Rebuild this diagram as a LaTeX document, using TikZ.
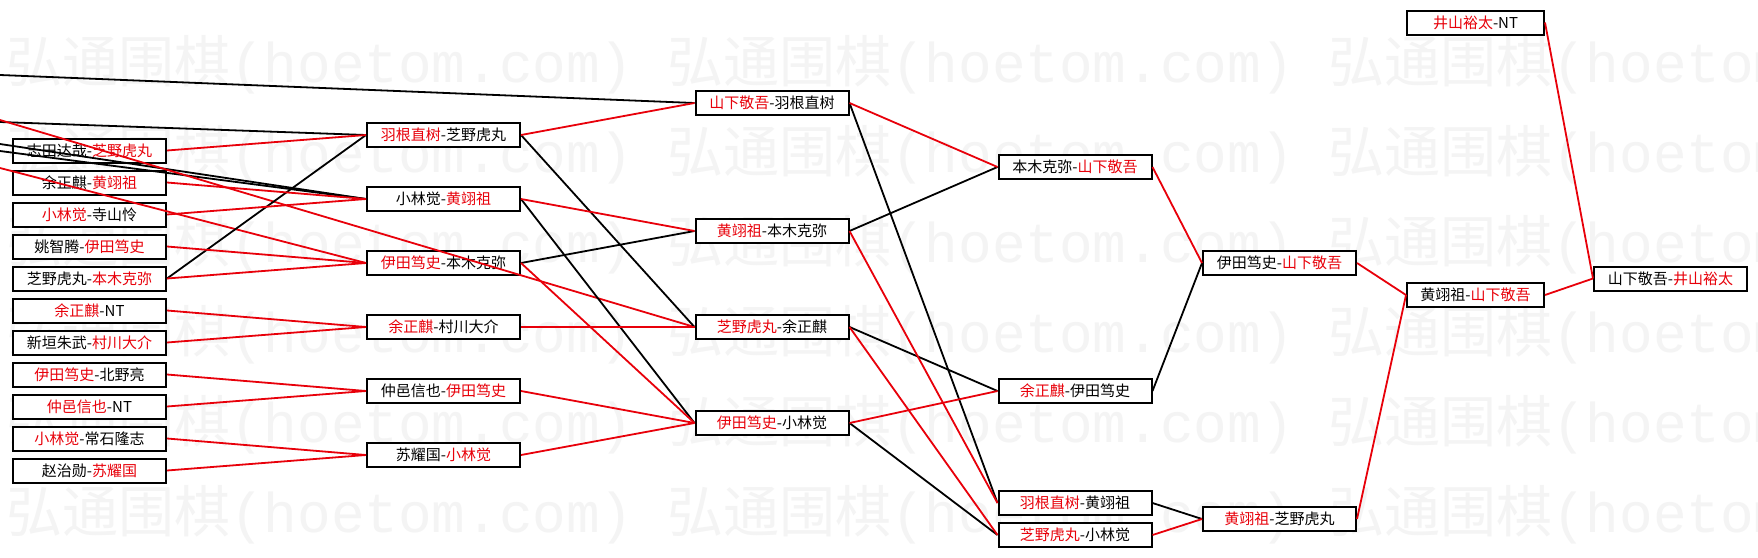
\documentclass[tikz,border=0pt]{standalone}
\usepackage{fontspec}
\usepackage{xcolor}
\usepackage{tikz}
\usetikzlibrary{positioning}
\newfontfamily\cjk{Noto Sans CJK SC}
\newfontfamily\mono{Liberation Mono}
\definecolor{rojo}{RGB}{232,0,10}
\definecolor{marca}{RGB}{244,244,244}
\newcommand{\gana}[1]{{\color{rojo}#1}}

\begin{document}
\begin{tikzpicture}[x=1pt,y=-1pt,
caja/.style={draw=black,line width=2pt,fill=white,minimum width=153pt,minimum height=24pt,inner sep=0pt,font=\cjk\fontsize{15}{18}\selectfont},
pierde/.style={draw=black,line width=1.8pt},
avanza/.style={draw=rojo,line width=1.8pt},
marcatexto/.style={text=marca,anchor=west,inner sep=0pt,font=\cjk\fontsize{56}{60}\selectfont}]
\useasboundingbox[fill=white] (0,0) rectangle (1758,557);
\foreach \r in {0,...,5}
  \foreach \k in {0,1,2}
    \node[marcatexto] (m\r\k) at (6+661*\k,65+90*\r) {弘通围棋{\mono(hoetom.com)}};

\node[caja] (a1) at (89.5,150.5) {志田达哉-\gana{芝野虎丸}};
\node[caja,below=6pt of a1] (a2) {余正麒-\gana{黄翊祖}};
\node[caja,below=6pt of a2] (a3) {\gana{小林觉}-寺山怜};
\node[caja,below=6pt of a3] (a4) {姚智腾-\gana{伊田笃史}};
\node[caja,below=6pt of a4] (a5) {芝野虎丸-\gana{本木克弥}};
\node[caja,below=6pt of a5] (a6) {\gana{余正麒}-NT};
\node[caja,below=6pt of a6] (a7) {新垣朱武-\gana{村川大介}};
\node[caja,below=6pt of a7] (a8) {\gana{伊田笃史}-北野亮};
\node[caja,below=6pt of a8] (a9) {\gana{仲邑信也}-NT};
\node[caja,below=6pt of a9] (a10) {\gana{小林觉}-常石隆志};
\node[caja,below=6pt of a10] (a11) {赵治勋-\gana{苏耀国}};

\node[caja] (b1) at (443.5,135) {\gana{羽根直树}-芝野虎丸};
\node[caja,below=38pt of b1] (b2) {小林觉-\gana{黄翊祖}};
\node[caja,below=38pt of b2] (b3) {\gana{伊田笃史}-本木克弥};
\node[caja,below=38pt of b3] (b4) {\gana{余正麒}-村川大介};
\node[caja,below=38pt of b4] (b5) {仲邑信也-\gana{伊田笃史}};
\node[caja,below=38pt of b5] (b6) {苏耀国-\gana{小林觉}};

\node[caja] (c1) at (772,103) {\gana{山下敬吾}-羽根直树};
\node[caja,below=102pt of c1] (c2) {\gana{黄翊祖}-本木克弥};
\node[caja,below=70pt of c2] (c3) {\gana{芝野虎丸}-余正麒};
\node[caja,below=70pt of c3] (c4) {\gana{伊田笃史}-小林觉};

\node[caja] (d1) at (1075,167) {本木克弥-\gana{山下敬吾}};
\node[caja,below=198pt of d1] (d2) {\gana{余正麒}-伊田笃史};
\node[caja,below=86pt of d2] (d3) {\gana{羽根直树}-黄翊祖};
\node[caja,below=6pt of d3] (d4) {\gana{芝野虎丸}-小林觉};

\node[caja] (e1) at (1279.5,263) {伊田笃史-\gana{山下敬吾}};
\node[caja,below=230pt of e1] (e2) {\gana{黄翊祖}-芝野虎丸};

\node[caja,minimum width=137pt] (f1) at (1475.5,22.5) {\gana{井山裕太}-NT};
\node[caja,minimum width=137pt,below=246.5pt of f1] (f2) {黄翊祖-\gana{山下敬吾}};

\node[caja] (g1) at (1670.5,278.5) {山下敬吾-\gana{井山裕太}};

\coordinate (o1) at (0,75);
\coordinate (o2) at (0,122);
\coordinate (o3) at (0,144);
\coordinate (o4) at (0,151);
\coordinate (o5) at (0,120);
\coordinate (o6) at (0,168);

\draw[pierde] (o1) -- (c1.west);
\draw[pierde] (o2) -- (b1.west);
\draw[pierde] (o3) -- (b2.west);
\draw[pierde] (o4) -- (b2.west);
\draw[avanza] (o5) -- (c3.west);
\draw[avanza] (o6) -- (b3.west);

\foreach \p/\q in {a5/b1,b1/c3,b2/c4,b3/c2,c1/d3,c2/d1,c3/d2,c4/d4,d2/e1,d3/e2}
  \draw[pierde] (\p.east) -- (\q.west);
\foreach \p/\q in {a1/b1,a2/b2,a3/b2,a4/b3,a5/b3,a6/b4,a7/b4,a8/b5,a9/b5,a10/b6,a11/b6,
  b1/c1,b2/c2,b3/c4,b4/c3,b5/c4,b6/c4,c1/d1,c2/d3,c3/d4,c4/d2,d1/e1,d4/e2,e1/f2,e2/f2,f1/g1,f2/g1}
  \draw[avanza] (\p.east) -- (\q.west);
\end{tikzpicture}
\end{document}
